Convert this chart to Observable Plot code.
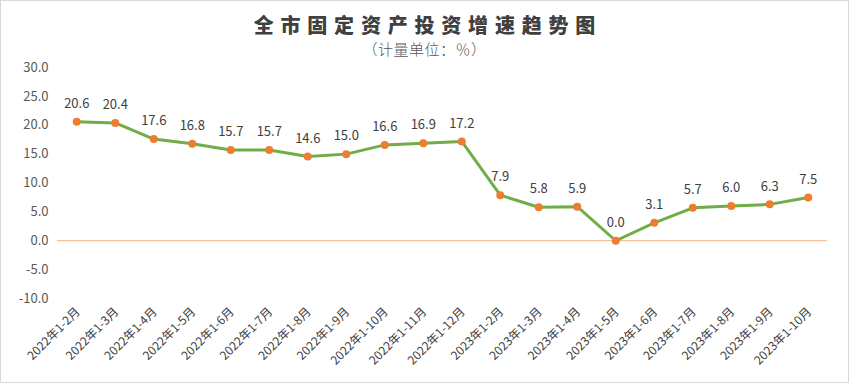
<!DOCTYPE html>
<html><head><meta charset="utf-8">
<script src="https://cdn.jsdelivr.net/npm/d3@7"></script>
<script src="https://cdn.jsdelivr.net/npm/@observablehq/plot@0.6"></script>
<style>
body{margin:0;background:#fff;}
#wrap{position:relative;width:849px;height:383px;overflow:hidden;background:#fff;}
#border{position:absolute;left:0;top:0;width:849px;height:383px;box-sizing:border-box;border:1px solid #d9d9d9;pointer-events:none;}
#title{position:absolute;top:13px;left:0;width:849px;text-align:center;font-family:"Noto Sans CJK SC",sans-serif;font-weight:900;font-size:20px;line-height:24px;letter-spacing:6.8px;padding-left:6.8px;box-sizing:border-box;color:#404040;}
#subtitle{position:absolute;top:39px;left:0;width:849px;text-align:center;font-family:"Noto Sans CJK SC",sans-serif;font-weight:300;font-size:15px;line-height:20px;letter-spacing:0.5px;color:#595959;}
#chart{position:absolute;left:0;top:0;}
</style>
</head><body>
<div id="wrap">
  <div id="chart"></div>
  <div id="title">全市固定资产投资增速趋势图</div>
  <div id="subtitle">（计量单位：％）</div>
  <div id="border"></div>
</div>
<script>
const categories = ["2022年1-2月","2022年1-3月","2022年1-4月","2022年1-5月","2022年1-6月","2022年1-7月","2022年1-8月","2022年1-9月","2022年1-10月","2022年1-11月","2022年1-12月","2023年1-2月","2023年1-3月","2023年1-4月","2023年1-5月","2023年1-6月","2023年1-7月","2023年1-8月","2023年1-9月","2023年1-10月"];
const growth = [20.6,20.4,17.6,16.8,15.7,15.7,14.6,15.0,16.6,16.9,17.2,7.9,5.8,5.9,0.0,3.1,5.7,6.0,6.3,7.5];
const yTicks = [-10,-5,0,5,10,15,20,25,30];

const data = categories.map((c,i)=>({cat:c, v:growth[i]}));

const chart = Plot.plot({
  width: 849,
  height: 383,
  marginLeft: 57,
  marginRight: 22,
  marginTop: 67,
  marginBottom: 85,
  style: {fontFamily: '"Noto Sans CJK SC", sans-serif', fontSize: "13px", background: "transparent"},
  x: {type: "point", domain: categories, padding: 0.5, round: false, axis: null},
  y: {domain: [-10, 30], axis: null, label: null},
  marks: [
    Plot.axisY({ticks: yTicks, tickFormat: d => d.toFixed(1), tickSize: 0, tickPadding: 9, fontSize: 13, fill: "#595959", label: null}),
    Plot.ruleY([0], {stroke: "#F4B183", strokeWidth: 1}),
    Plot.line(data, {x: "cat", y: "v", stroke: "#70AD47", strokeWidth: 3}),
    Plot.dot(data, {x: "cat", y: "v", r: 4, fill: "#ED7D31", stroke: "none"}),
    Plot.text(data, {x: "cat", y: "v", text: d => d.v.toFixed(1), dy: -18, fontSize: 13, fill: "#404040"}),
    Plot.text(categories, {x: d => d, frameAnchor: "bottom", rotate: -45, textAnchor: "end", dx: 4, dy: 14, fontSize: 12, fill: "#404040"})
  ]
});
document.getElementById("chart").appendChild(chart);
</script>
</body></html>
